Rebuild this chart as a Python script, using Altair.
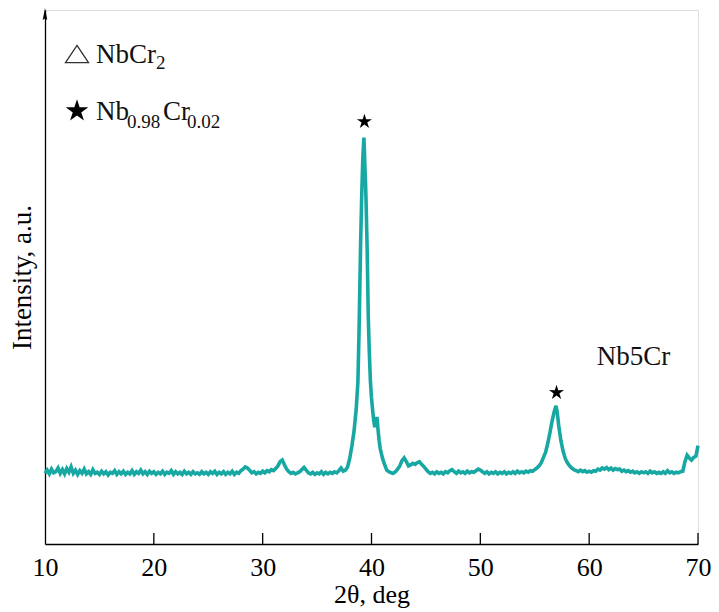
import altair as alt
import pandas as pd

# ---- diffraction pattern (2theta in degrees, intensity in arbitrary units) ----
two_theta = [
    10.0, 10.2, 10.4, 10.6, 10.8, 11.0, 11.2, 11.4, 11.6, 11.8,
    12.0, 12.2, 12.4, 12.6, 12.8, 13.0, 13.2, 13.4, 13.6, 13.8,
    14.0, 14.2, 14.4, 14.6, 14.8, 15.0, 15.2, 15.4, 15.6, 15.8,
    16.0, 16.2, 16.4, 16.6, 16.8, 17.0, 17.2, 17.4, 17.6, 17.8,
    18.0, 18.2, 18.4, 18.6, 18.8, 19.0, 19.2, 19.4, 19.6, 19.8,
    20.0, 20.2, 20.4, 20.6, 20.8, 21.0, 21.2, 21.4, 21.6, 21.8,
    22.0, 22.2, 22.4, 22.6, 22.8, 23.0, 23.2, 23.4, 23.6, 23.8,
    24.0, 24.2, 24.4, 24.6, 24.8, 25.0, 25.2, 25.4, 25.6, 25.8,
    26.0, 26.2, 26.4, 26.6, 26.8, 27.0, 27.2, 27.4, 27.6, 27.8,
    28.0, 28.2, 28.4, 28.6, 28.8, 29.0, 29.2, 29.4, 29.6, 29.8,
    30.0, 30.2, 30.4, 30.6, 30.8, 31.0, 31.2, 31.4, 31.6, 31.8,
    32.0, 32.2, 32.4, 32.6, 32.8, 33.0, 33.2, 33.4, 33.6, 33.8,
    34.0, 34.2, 34.4, 34.6, 34.8, 35.0, 35.2, 35.4, 35.6, 35.8,
    36.0, 36.2, 36.4, 36.6, 36.8, 37.0, 37.2, 37.4, 37.6, 37.8,
    38.0, 38.2, 38.4, 38.6, 38.75, 38.85, 39.0, 39.1, 39.2, 39.3,
    39.35, 39.4, 39.45, 39.5, 39.6, 39.7, 39.8, 39.9, 40.0, 40.1,
    40.2, 40.3, 40.4, 40.5, 40.6, 40.7, 40.8, 41.0, 41.2, 41.4,
    41.6, 41.8,
    42.0, 42.2, 42.4, 42.6, 42.8, 43.0, 43.2, 43.4, 43.6, 43.8,
    44.0, 44.2, 44.4, 44.6, 44.8, 45.0, 45.2, 45.4, 45.6, 45.8,
    46.0, 46.2, 46.4, 46.6, 46.8, 47.0, 47.2, 47.4, 47.6, 47.8,
    48.0, 48.2, 48.4, 48.6, 48.8, 49.0, 49.2, 49.4, 49.6, 49.8,
    50.0, 50.2, 50.4, 50.6, 50.8, 51.0, 51.2, 51.4, 51.6, 51.8,
    52.0, 52.2, 52.4, 52.6, 52.8, 53.0, 53.2, 53.4, 53.6, 53.8,
    54.0, 54.2, 54.4, 54.6, 54.8,
    55.0, 55.2, 55.4, 55.6, 55.8, 56.0, 56.2, 56.4, 56.6, 56.8,
    56.95, 57.05,
    57.2, 57.4, 57.6, 57.8, 58.0, 58.2, 58.4, 58.6, 58.8, 59.0,
    59.2, 59.4, 59.6, 59.8, 60.0, 60.2, 60.4, 60.6, 60.8, 61.0,
    61.2, 61.4, 61.6, 61.8, 62.0, 62.2, 62.4, 62.6, 62.8, 63.0,
    63.2, 63.4, 63.6, 63.8, 64.0, 64.2, 64.4, 64.6, 64.8, 65.0,
    65.2, 65.4, 65.6, 65.8, 66.0, 66.2, 66.4, 66.6, 66.8, 67.0,
    67.2, 67.4, 67.6, 67.8, 68.0, 68.2, 68.4, 68.6,
    68.8, 69.0, 69.2, 69.4, 69.6, 69.8, 69.9, 70.0,
]

intensity = [
    128, 134, 127, 136, 129, 131, 138, 128, 135, 127,
    137, 130, 140, 128, 134, 126, 133, 128, 136, 127,
    131, 126, 135, 128, 130, 126, 132, 127, 131, 125,
    130, 128, 133, 126, 131, 127, 132, 126, 130, 127,
    133, 126, 131, 128, 134, 127, 131, 126, 132, 128,
    131, 126, 130, 127, 132, 126, 130, 128, 133, 126,
    131, 127, 130, 126, 132, 127, 130, 126, 131, 127,
    129, 126, 131, 127, 130, 126, 131, 128, 132, 126,
    130, 127, 131, 126, 130, 127, 132, 126, 130, 128,
    133, 136, 140, 138, 134, 129, 131, 127, 130, 128,
    132, 129, 133, 131, 135, 133, 137, 142, 150, 153,
    144, 136, 131, 128, 130, 127, 129, 131, 135, 139,
    134, 129, 127, 130, 126, 129, 127, 131, 126, 130,
    127, 130, 128, 131, 129, 133, 138, 132, 134, 140,
    156, 180, 208, 250, 300, 390, 560, 650, 720, 760,
    735, 700, 676, 640, 551, 425, 355, 301, 270, 248,
    228, 215, 222, 234, 210, 190, 175, 157, 145, 134,
    131, 129,
    128, 131, 136, 142, 152, 157, 150, 142, 144, 147,
    145, 148, 150, 145, 141, 136, 131, 128, 130, 127,
    131, 128, 130, 127, 131, 129, 133, 135, 131, 128,
    132, 129, 131, 128, 132, 129, 131, 130, 133, 136,
    134, 131, 128, 131, 127, 130, 128, 131, 127, 130,
    128, 131, 127, 130, 128, 131, 128, 132, 129, 131,
    129, 132, 130, 133, 132,
    135, 138, 142, 148, 158, 168, 185, 205, 227, 245,
    255, 245,
    218, 190, 170, 156, 148, 142, 138, 135, 133, 131,
    134, 131, 133, 130, 132, 130, 133, 132, 136, 134,
    138, 136, 139, 135, 138, 134, 137, 135, 136, 132,
    134, 131, 133, 130, 132, 129, 131, 128, 131, 129,
    131, 128, 132, 129, 131, 128, 130, 128, 131, 128,
    133, 129, 131, 128, 130, 129, 131, 132,
    150, 162, 157, 153, 158, 160, 170, 180,
]

assert len(two_theta) == len(intensity)

# peak markers (stars) and phase label
star_theta = [39.35, 57.0]
star_intensity = [790, 280]
phase_label = ["Nb5Cr"]
phase_theta = [60.7]
phase_intensity = [331]

# axis ticks
x_ticks = [10, 20, 30, 40, 50, 60, 70]
inner_ticks = [20, 30, 40, 50, 60, 70]

# legend texts: (text, x px, y px, font size)
legend_parts = [
    ("NbCr", 51, 53, 27),
    ("2", 111, 59, 19),
    ("Nb", 51, 110, 27),
    ("0.98", 82, 118, 19),
    ("Cr", 118, 110, 27),
    ("0.02", 142, 118, 19),
]

FONT = "Liberation Serif"
TEAL = "#17a8a3"
STAR = ("M0,-1L0.223,-0.307L0.951,-0.309L0.361,0.117L0.588,0.809L0,0.38"
        "L-0.588,0.809L-0.361,0.117L-0.951,-0.309L-0.223,-0.307Z")
TRI = "M0,-0.75L1,0.75L-1,0.75Z"
ARROW = "M0,-1L0.38,1L0,0.75L-0.38,1Z"

W, H = 653, 534

xscale = alt.Scale(domain=[10, 70], nice=False)
yscale = alt.Scale(domain=[-5, 1000], nice=False, zero=False)

df = pd.DataFrame({"theta": two_theta, "I": intensity})

line = alt.Chart(df).mark_line(color=TEAL, strokeWidth=3.6).encode(
    x=alt.X("theta:Q", scale=xscale,
            axis=alt.Axis(values=x_ticks, title="2θ, deg", grid=False, ticks=False,
                          labelFont=FONT, labelFontSize=26, labelColor="black",
                          labelPadding=10, labelFlush=False, labelOverlap=False,
                          domainColor="black", domainWidth=1.3,
                          titleFont=FONT, titleFontSize=26, titleFontWeight="normal",
                          titleColor="black", titleY=58, titleBaseline="alphabetic")),
    y=alt.Y("I:Q", scale=yscale,
            axis=alt.Axis(title="Intensity, a.u.", labels=False, ticks=False, grid=False,
                          domainColor="black", domainWidth=1.3,
                          titleFont=FONT, titleFontSize=27, titleFontWeight="normal",
                          titleColor="black", titlePadding=9)),
)

stars = alt.Chart(pd.DataFrame({"theta": star_theta, "I": star_intensity})).mark_point(
    shape=STAR, filled=True, color="black", opacity=1, size=250
).encode(x=alt.X("theta:Q", scale=xscale), y=alt.Y("I:Q", scale=yscale))

phase = alt.Chart(pd.DataFrame({"theta": phase_theta, "I": phase_intensity, "t": phase_label})).mark_text(
    font=FONT, fontSize=27, align="left", baseline="alphabetic", color="#111"
).encode(x=alt.X("theta:Q", scale=xscale), y=alt.Y("I:Q", scale=yscale), text="t:N")

ticks = alt.Chart(pd.DataFrame({"t": inner_ticks})).mark_rule(color="black", strokeWidth=1.3).encode(
    x=alt.X("t:Q", scale=xscale), y=alt.value(H), y2=alt.value(H - 11)
)

arrow = alt.Chart(pd.DataFrame({"a": [0]})).mark_point(
    shape=ARROW, filled=True, color="black", opacity=1, size=144
).encode(x=alt.value(0), y=alt.value(4))

leg_tri = alt.Chart(pd.DataFrame({"a": [0]})).mark_point(
    shape=TRI, filled=False, color="#333", strokeWidth=1.3, opacity=1, size=529
).encode(x=alt.value(32), y=alt.value(44))

leg_star = alt.Chart(pd.DataFrame({"a": [0]})).mark_point(
    shape=STAR, filled=True, color="black", opacity=1, size=560
).encode(x=alt.value(32), y=alt.value(101))

layers = [line, ticks, stars, phase, arrow, leg_tri, leg_star]
for txt, px, py, fs in legend_parts:
    layers.append(
        alt.Chart(pd.DataFrame({"t": [txt]})).mark_text(
            font=FONT, fontSize=fs, align="left", baseline="alphabetic", color="#111"
        ).encode(x=alt.value(px), y=alt.value(py), text="t:N")
    )

chart = alt.layer(*layers).properties(
    width=W, height=H,
    autosize=alt.AutoSizeParams(type="none"),
    padding={"left": 37, "top": 2, "right": 13, "bottom": 65},
).configure_view(stroke=None).configure(background="white")

chart.save("out.html", embed_options={"renderer": "svg", "actions": False})
